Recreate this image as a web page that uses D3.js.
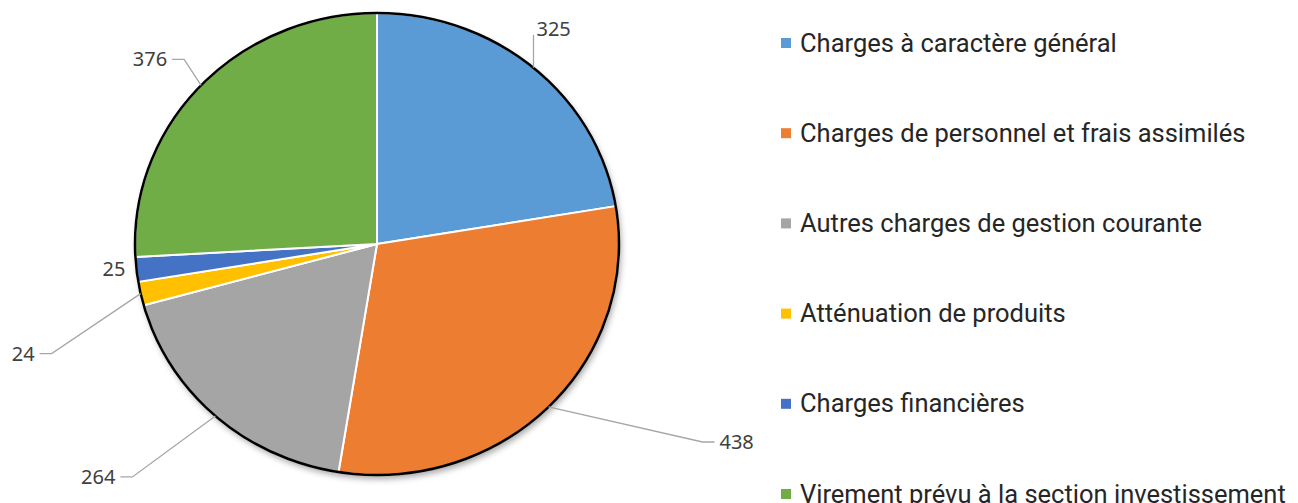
<!DOCTYPE html>
<html>
<head>
<meta charset="utf-8">
<script src="https://cdn.jsdelivr.net/npm/d3@7"></script>
<style>
  body { margin: 0; background: #fff; }
  svg { display: block; }
</style>
</head>
<body>
<div id="chart"></div>
<script>
(function() {
  // data
  var categories = [
    "Charges à caractère général",
    "Charges de personnel et frais assimilés",
    "Autres charges de gestion courante",
    "Atténuation de produits",
    "Charges financières",
    "Virement prévu à la section investissement"
  ];
  var values = [325, 438, 264, 24, 25, 376];
  var colors = ["#5B9BD5", "#ED7D31", "#A5A5A5", "#FFC000", "#4472C4", "#70AD47"];

  // label leader layout: offset from slice edge to elbow (null = no leader)
  var leaderOffsets = [[0, -33], [154, 35], [-83, 61], [-89, 60], null, [-17, -26]];

  var W = 1298, H = 503;
  var cx = 377, cy = 244, rx = 242, ry = 231;

  var svg = d3.select("#chart").append("svg")
    .attr("width", W)
    .attr("height", H);

  var defs = svg.append("defs");
  var filt = defs.append("filter").attr("id", "shadow")
    .attr("x", "-10%").attr("y", "-10%").attr("width", "120%").attr("height", "125%");
  filt.append("feDropShadow")
    .attr("dx", 2).attr("dy", 4).attr("stdDeviation", 3)
    .attr("flood-color", "#000").attr("flood-opacity", 0.35);

  var pie = d3.pie().sort(null).value(function(d) { return d; });
  var arcs = pie(values);

  var arc = d3.arc().innerRadius(0).outerRadius(1);

  // shadow under the pie
  svg.append("ellipse")
    .attr("cx", cx).attr("cy", cy).attr("rx", rx).attr("ry", ry)
    .attr("fill", "#fff")
    .attr("filter", "url(#shadow)");

  // ellipse = unit pie scaled
  var pieG = svg.append("g")
    .attr("transform", "translate(" + cx + "," + cy + ") scale(" + rx + "," + ry + ")");

  pieG.selectAll("path.slice")
    .data(arcs)
    .enter()
    .append("path")
    .attr("class", "slice")
    .attr("d", arc)
    .attr("fill", function(d, i) { return colors[i]; })
    .attr("stroke", "#fff")
    .attr("stroke-width", 2)
    .attr("vector-effect", "non-scaling-stroke")
    .attr("stroke-linejoin", "round");

  pieG.append("circle")
    .attr("r", 1)
    .attr("fill", "none")
    .attr("stroke", "#000")
    .attr("stroke-width", 2.5)
    .attr("vector-effect", "non-scaling-stroke");

  // data labels
  var edgePoint = function(d) {
    var a = (d.startAngle + d.endAngle) / 2;
    return [cx + rx * Math.sin(a), cy - ry * Math.cos(a)];
  };

  var labels = svg.append("g")
    .attr("font-family", "'Noto Sans', sans-serif")
    .attr("font-size", 20)
    .attr("fill", "#404040");

  arcs.forEach(function(d, i) {
    var p = edgePoint(d);
    var off = leaderOffsets[i];
    if (!off) {
      labels.append("text")
        .attr("x", p[0] - 11)
        .attr("y", p[1] + 7)
        .attr("text-anchor", "end")
        .text(values[i]);
      return;
    }
    var e = [p[0] + off[0], p[1] + off[1]];
    var pts, tx, ty, anchor;
    if (off[0] === 0) {
      pts = [p, e];
      tx = e[0] + 3; ty = e[1] + 1; anchor = "start";
    } else {
      var dir = off[0] > 0 ? 1 : -1;
      var t = [e[0] + dir * 12, e[1]];
      pts = [p, e, t];
      tx = t[0] + dir * 5; ty = t[1] + 7; anchor = dir > 0 ? "start" : "end";
    }
    labels.append("path")
      .attr("d", d3.line()(pts))
      .attr("fill", "none")
      .attr("stroke", "#a6a6a6")
      .attr("stroke-width", 1.3);
    labels.append("text")
      .attr("x", tx)
      .attr("y", ty)
      .attr("text-anchor", anchor)
      .text(values[i]);
  });

  // legend
  var legendY = d3.scalePoint()
    .domain(categories)
    .range([43, 494]);

  var legend = svg.append("g")
    .attr("font-family", "Roboto, sans-serif")
    .attr("font-size", 25.5)
    .attr("fill", "#262626");

  var items = legend.selectAll("g.item")
    .data(categories)
    .enter()
    .append("g")
    .attr("class", "item")
    .attr("transform", function(d) { return "translate(781," + legendY(d) + ")"; });

  items.append("rect")
    .attr("x", 0).attr("y", -5)
    .attr("width", 10).attr("height", 10)
    .attr("fill", function(d, i) { return colors[i]; });

  items.append("text")
    .attr("x", 19)
    .attr("y", 8.5)
    .text(function(d) { return d; });
})();
</script>
</body>
</html>
